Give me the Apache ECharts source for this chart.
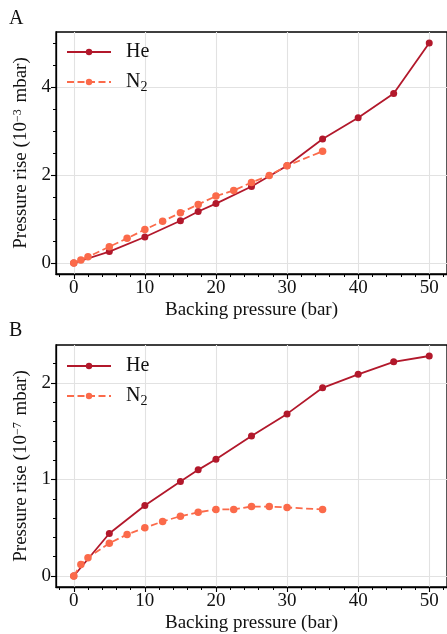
<!DOCTYPE html>
<html>
<head>
<meta charset="utf-8">
<script src="https://cdn.jsdelivr.net/npm/echarts@6/dist/echarts.min.js"></script>
<style>
html,body{margin:0;padding:0;background:#fff;}
#chart{width:447px;height:634px;}
</style>
</head>
<body>
<div id="chart"></div>
<script>
// ---- data ----
const xHe = [0, 5, 10, 15, 17.5, 20, 25, 30, 35, 40, 45, 50];
const xN2 = [0, 1, 2, 5, 7.5, 10, 12.5, 15, 17.5, 20, 22.5, 25, 27.5, 30, 35];
const heA = [0, 0.26, 0.59, 0.96, 1.17, 1.35, 1.74, 2.21, 2.82, 3.30, 3.85, 5.0];
const n2A = [0, 0.07, 0.14, 0.37, 0.56, 0.76, 0.95, 1.14, 1.33, 1.52, 1.65, 1.83, 1.99, 2.21, 2.54];
const heB = [0, 0.44, 0.73, 0.98, 1.10, 1.21, 1.45, 1.68, 1.95, 2.09, 2.22, 2.28];
const n2B = [0, 0.12, 0.19, 0.34, 0.43, 0.50, 0.565, 0.62, 0.66, 0.69, 0.69, 0.72, 0.72, 0.71, 0.69];
const xTicks = [0, 10, 20, 30, 40, 50];
const xMinor = [-2, 2, 4, 6, 8, 12, 14, 16, 18, 22, 24, 26, 28, 32, 34, 36, 38, 42, 44, 46, 48, 52];
const yTicksA = [0, 2, 4];
const yMinorA = [0.5, 1, 1.5, 2.5, 3, 3.5, 4.5, 5];
const yTicksB = [0, 1, 2];
const yMinorB = [0.2, 0.4, 0.6, 0.8, 1.2, 1.4, 1.6, 1.8, 2.2];

const FONT = '"Liberation Serif", "DejaVu Serif", serif';
const C_HE = '#b2182b';
const C_N2 = '#fb6a4a';

function pairs(xs, ys) { return xs.map((x, i) => [x, ys[i]]); }

const grids = [
  { left: 56, top: 32, width: 393, height: 242 },
  { left: 56, top: 345, width: 393, height: 242 }
];
const yRanges = [[-0.25, 5.25], [-0.114, 2.394]];
const yMajors = [yTicksA, yTicksB];
const yMinors = [yMinorA, yMinorB];
const yExp = ['−3', '−7'];

const xAxis = [], yAxis = [], series = [];
grids.forEach((g, gi) => {
  xAxis.push({
    type: 'value', gridIndex: gi, min: -2.5, max: 52.5, position: 'bottom',
    axisLine: { show: true, onZero: false, lineStyle: { color: '#000', width: 1.3 } },
    axisTick: { show: true, customValues: xTicks, length: 5, lineStyle: { color: '#000', width: 1.1 } },
    axisLabel: { customValues: xTicks, fontFamily: FONT, fontSize: 19, color: '#111', margin: 5 },
    splitLine: { show: true, lineStyle: { color: '#e2e2e2', width: 1.1 } },
    name: 'Backing pressure (bar)', nameLocation: 'middle', nameGap: 27,
    nameTextStyle: { fontFamily: FONT, fontSize: 19, color: '#111' }
  });
  xAxis.push({
    type: 'value', gridIndex: gi, min: -2.5, max: 52.5, position: 'bottom',
    axisLine: { show: false, onZero: false },
    axisTick: { show: true, customValues: xMinor, length: 3, lineStyle: { color: '#000', width: 1 } },
    axisLabel: { show: false }, splitLine: { show: false }
  });
  yAxis.push({
    type: 'value', gridIndex: gi, min: yRanges[gi][0], max: yRanges[gi][1], position: 'left',
    axisLine: { show: true, onZero: false, lineStyle: { color: '#000', width: 1.3 } },
    axisTick: { show: true, customValues: yMajors[gi], length: 5, lineStyle: { color: '#000', width: 1.1 } },
    axisLabel: { customValues: yMajors[gi], fontFamily: FONT, fontSize: 19, color: '#111', margin: 5 },
    splitLine: { show: true, lineStyle: { color: '#e2e2e2', width: 1.1 } },
    name: '{t|Pressure rise (10}{s|' + yExp[gi] + '}{t| mbar)}', nameLocation: 'middle', nameGap: 24, nameRotate: 90,
    nameTextStyle: {
      color: '#111',
      rich: {
        t: { fontFamily: FONT, fontSize: 19, color: '#111' },
        s: { fontFamily: FONT, fontSize: 12, color: '#111', verticalAlign: 'top', padding: [0, 2, 0, 0] }
      }
    }
  });
  yAxis.push({
    type: 'value', gridIndex: gi, min: yRanges[gi][0], max: yRanges[gi][1], position: 'left',
    axisLine: { show: false, onZero: false },
    axisTick: { show: true, customValues: yMinors[gi], length: 3, lineStyle: { color: '#000', width: 1 } },
    axisLabel: { show: false }, splitLine: { show: false }
  });
});

const heData = [heA, heB], n2Data = [n2A, n2B];
grids.forEach((g, gi) => {
  series.push({
    name: 'He', type: 'line', xAxisIndex: gi * 2, yAxisIndex: gi * 2,
    data: pairs(xHe, heData[gi]), symbol: 'circle', symbolSize: 7,
    lineStyle: { color: C_HE, width: 1.8 }, itemStyle: { color: C_HE }, z: 3, animation: false
  });
  series.push({
    name: 'N2', type: 'line', xAxisIndex: gi * 2, yAxisIndex: gi * 2,
    data: pairs(xN2, n2Data[gi]), symbol: 'circle', symbolSize: 7.5,
    lineStyle: { color: C_N2, width: 1.8, type: [7, 3.5] }, itemStyle: { color: C_N2 }, z: 4, animation: false
  });
});

const legendBase = {
  orient: 'vertical', left: 61, itemWidth: 44, itemHeight: 8, itemGap: 10,
  data: ['He', 'N2'],
  formatter: n => n === 'N2' ? '{n|N}{s|2}' : '{n|He}',
  textStyle: {
    padding: [0, 0, 0, 10],
    rich: {
      n: { fontFamily: FONT, fontSize: 20, color: '#111' },
      s: { fontFamily: FONT, fontSize: 14, color: '#111', padding: [10, 0, 0, 0] }
    }
  }
};

const option = {
  animation: false,
  backgroundColor: '#fff',
  grid: grids.map(g => Object.assign({ show: true, borderColor: '#000', borderWidth: 1.3, backgroundColor: 'transparent' }, g)),
  xAxis, yAxis, series,
  legend: [Object.assign({ top: 37 }, legendBase), Object.assign({ top: 351 }, legendBase)],
  graphic: [
    { type: 'text', left: 9, top: 9, style: { text: 'A', font: '20px ' + FONT, fill: '#111' } },
    { type: 'text', left: 9, top: 321, style: { text: 'B', font: '20px ' + FONT, fill: '#111' } }
  ]
};

const chart = echarts.init(document.getElementById('chart'), null, { renderer: 'canvas' });
chart.setOption(option);
</script>
</body>
</html>
